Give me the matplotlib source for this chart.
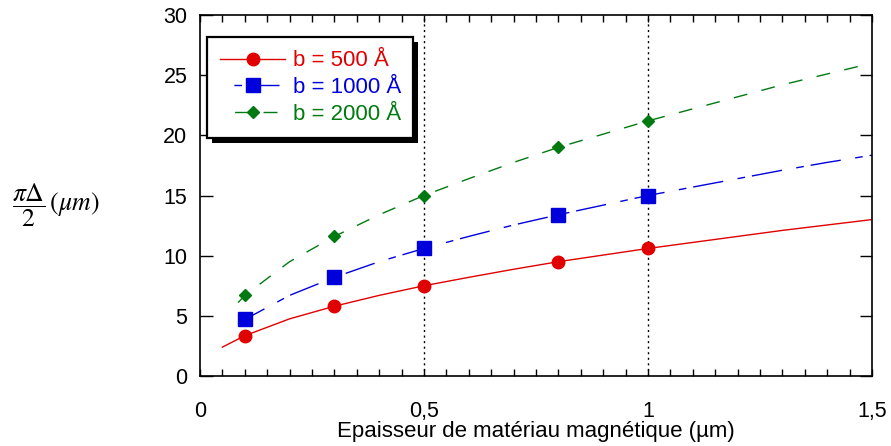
import matplotlib
matplotlib.use("Agg")
import matplotlib.pyplot as plt
from matplotlib.ticker import MultipleLocator, FixedLocator
from matplotlib.patches import Rectangle
from matplotlib.transforms import Bbox

plt.rcParams['font.family'] = ['Liberation Sans', 'DejaVu Sans']
plt.rcParams['mathtext.fontset'] = 'stix'

# Curves (thickness in µm -> pi*Delta/2 in µm)
x_red_line = [0.05, 0.1, 0.2, 0.3, 0.4, 0.5, 0.6, 0.7, 0.8, 0.9, 1.0, 1.1, 1.2, 1.3, 1.4, 1.5]
y_red_line = [2.4, 3.35, 4.75, 5.8, 6.7, 7.5, 8.2, 8.87, 9.5, 10.05, 10.6, 11.1, 11.6, 12.1, 12.55, 13.0]

x_line = [0.085, 0.1, 0.2, 0.3, 0.4, 0.5, 0.6, 0.7, 0.8, 0.9, 1.0, 1.1, 1.2, 1.3, 1.4, 1.5]
y_blue_line = [4.3, 4.7, 6.7, 8.2, 9.5, 10.6, 11.6, 12.55, 13.4, 14.2, 15.0, 15.7, 16.4, 17.1, 17.75, 18.35]
y_green_line = [6.1, 6.7, 9.5, 11.6, 13.4, 15.0, 16.4, 17.75, 19.0, 20.1, 21.2, 22.2, 23.2, 24.2, 25.1, 26.0]

# Measured points
x_pts = [0.1, 0.3, 0.5, 0.8, 1.0]
y_red_pts = [3.35, 5.8, 7.5, 9.5, 10.6]
y_blue_pts = [4.7, 8.2, 10.6, 13.4, 15.0]
y_green_pts = [6.7, 11.6, 15.0, 19.0, 21.2]

labels = ['b = 500 Å', 'b = 1000 Å', 'b = 2000 Å']
x_ticks = [0, 0.5, 1.0, 1.5]
x_tick_labels = ['0', '0,5', '1', '1,5']
y_ticks = [0, 5, 10, 15, 20, 25, 30]

red, blue, green = '#e00000', '#0000dd', '#007a10'
blue_dash = (22, 10.5, 5.5, 5)
green_dash = (10, 10.5)

W, H = 891, 446
fig = plt.figure(figsize=(W / 100, H / 100), dpi=100)
ax = fig.add_axes([200 / W, 1 - 376 / H, 672 / W, 361 / H])

for xv in (0.5, 1.0):
    ax.axvline(xv, color='black', linestyle=(0, (1.5, 2.5)), linewidth=1.0, zorder=1)

ax.plot(x_red_line, y_red_line, color=red, lw=1.0, zorder=2)
ax.plot(x_line, y_blue_line, color=blue, lw=1.0, dashes=blue_dash, zorder=2)
ax.plot(x_line, y_green_line, color=green, lw=1.0, dashes=green_dash, zorder=2)

ax.plot(x_pts, y_red_pts, 'o', color=red, ms=9, zorder=3)
ax.plot(x_pts, y_blue_pts, 's', color=blue, ms=9.5, zorder=3)
ax.plot(x_pts, y_green_pts, 'D', color=green, ms=6.5, zorder=3)

# Legend proxies combining line style and marker
h_red, = ax.plot([], [], color=red, lw=1.0, marker='o', ms=9, label=labels[0])
h_blue, = ax.plot([], [], color=blue, lw=1.0, marker='s', ms=9.5,
                  linestyle=(22.5, blue_dash), label=labels[1])
h_green, = ax.plot([], [], color=green, lw=1.0, marker='D', ms=6.5,
                   linestyle=(10, green_dash), label=labels[2])
lx0, ly1 = (207 - 200) / 672, (376 - 37) / 361
lw_, lh_ = 206 / 672, 96 / 361
leg = ax.legend(handles=[h_red, h_blue, h_green], loc='upper left',
                bbox_to_anchor=(lx0, ly1 - lh_, lw_, lh_), mode='expand', borderaxespad=0,
                fontsize=16, labelcolor='linecolor',
                handlelength=2.9, handletextpad=0.35, borderpad=0.6, labelspacing=0.26,
                fancybox=False, framealpha=1, edgecolor='black')
leg.get_frame().set_linewidth(1.6)
leg.set_zorder(6)

ax.set_xlim(0, 1.5)
ax.set_ylim(0, 30)
ax.xaxis.set_major_locator(FixedLocator(x_ticks))
ax.set_xticklabels(x_tick_labels)
ax.xaxis.set_minor_locator(MultipleLocator(0.05))
ax.yaxis.set_major_locator(FixedLocator(y_ticks))

ax.tick_params(axis='x', which='both', direction='in', top=True, length=5, width=1,
               labelsize=15.5, pad=18)
ax.tick_params(axis='y', which='major', direction='in', right=True, length=9, width=1,
               labelsize=15.5, pad=9)
for s in ax.spines.values():
    s.set_linewidth(1.2)

ax.set_xlabel('Epaisseur de matériau magnétique (µm)', fontsize=16, labelpad=-1)
fig.text(56 / W, 1 - 205 / H, r'$\dfrac{\pi\Delta}{2}\,(\mu m)$', fontsize=18.5,
         ha='center', va='center')

# Solid black drop shadow behind the legend box
fig.canvas.draw()
bb = leg.get_frame().get_window_extent()
off = 4.5
shadow_bb = Bbox.from_extents(bb.x0 + off, bb.y0 - off, bb.x1 + off, bb.y1 - off)
shadow_fig = shadow_bb.transformed(fig.transFigure.inverted())
ax.add_patch(Rectangle((shadow_fig.x0, shadow_fig.y0), shadow_fig.width, shadow_fig.height,
                       transform=fig.transFigure, facecolor='black', edgecolor='none',
                       zorder=5.5, clip_on=False))

fig.savefig('out.png', dpi=100)
